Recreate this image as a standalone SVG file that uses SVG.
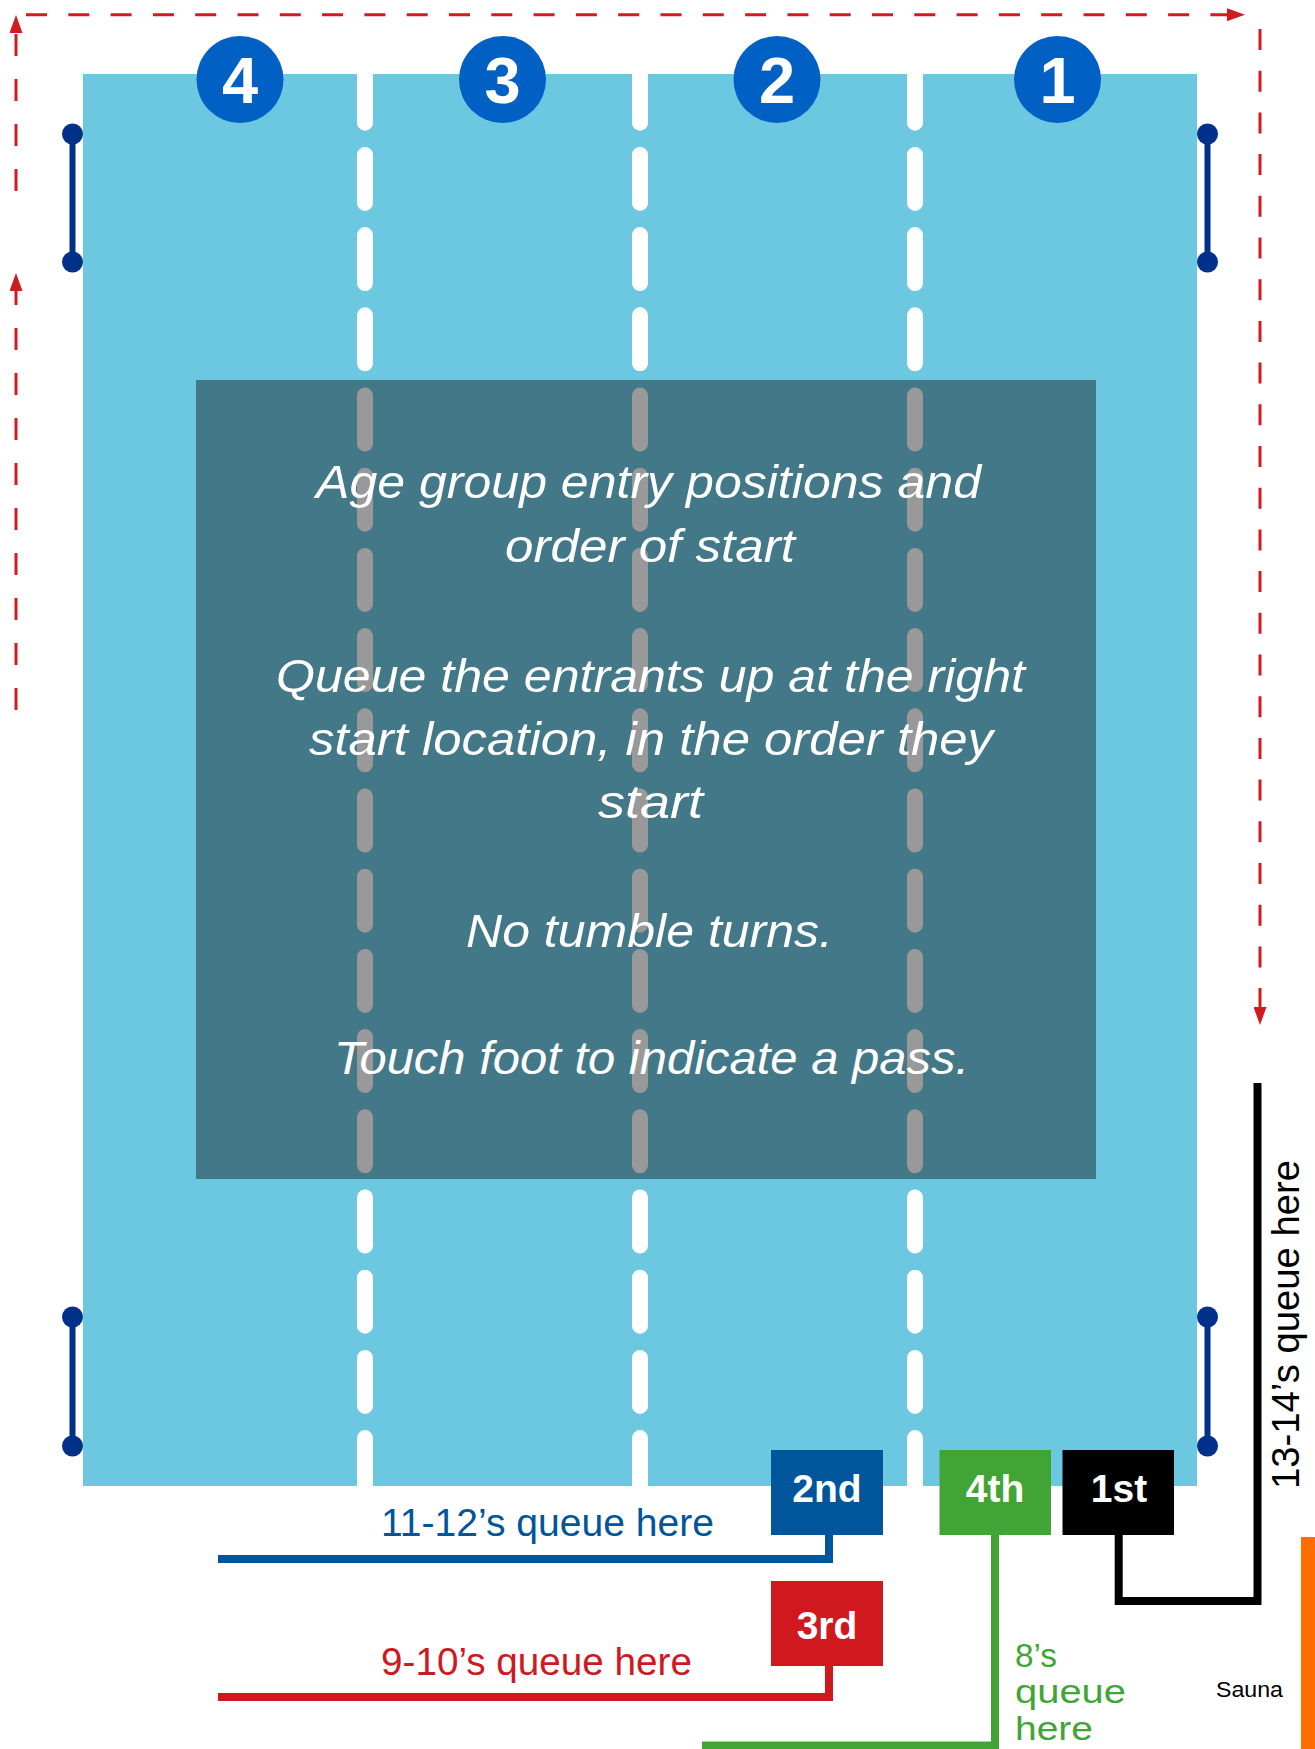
<svg xmlns="http://www.w3.org/2000/svg" width="1315" height="1749" viewBox="0 0 1315 1749">
<defs>
<style>
.pool{fill:#6cc8e1}
.overlay{fill:#427887}
.lane{stroke:#ffffff;stroke-width:16;stroke-linecap:round;stroke-dasharray:48 32.2;fill:none}
.lanegrey{stroke:#999999;stroke-width:16;stroke-linecap:round;stroke-dasharray:48 32.2;fill:none}
.rope{stroke:#00308a;stroke-width:6;fill:none}
.ropedot{fill:#00308a}
.circ{fill:#0160c4}
.circtxt{font-family:"Liberation Sans",Arial,sans-serif;font-weight:bold;font-size:65px;fill:#ffffff;text-anchor:middle}
.note{font-family:"Liberation Sans",Arial,sans-serif;font-style:italic;font-size:47px;fill:#ffffff;text-anchor:middle}
.boxtxt{font-family:"Liberation Sans",Arial,sans-serif;font-weight:bold;font-size:39px;fill:#ffffff;text-anchor:middle}
.q{font-family:"Liberation Sans",Arial,sans-serif;font-size:38px}
.q8{font-family:"Liberation Sans",Arial,sans-serif;font-size:33px;fill:#41a535}
.red{stroke:#d21a21;stroke-width:3;fill:none}
.conn{fill:none;stroke-width:8;stroke-linejoin:miter}
</style>
<marker id="arr" markerUnits="userSpaceOnUse" markerWidth="18" markerHeight="13" refX="0" refY="6.5" orient="auto" viewBox="0 0 18 13">
<path d="M0,0 L18,6.5 L0,13 Z" fill="#d21a21"/>
</marker>
<clipPath id="poolClip"><rect x="83" y="74" width="1114" height="1412"/></clipPath>
<clipPath id="ovClip"><rect x="196" y="380" width="900" height="799"/></clipPath>
</defs>
<rect width="1315" height="1749" fill="#ffffff"/>

<g id="pool">
<rect class="pool" x="83" y="74" width="1114" height="1412"/>
<g clip-path="url(#poolClip)">
<line class="lane" x1="365" y1="74.7" x2="365" y2="1500"/>
<line class="lane" x1="640" y1="74.7" x2="640" y2="1500"/>
<line class="lane" x1="915" y1="74.7" x2="915" y2="1500"/>
</g>
</g>

<g id="ropes">
<line class="rope" x1="72.5" y1="134" x2="72.5" y2="262"/>
<circle class="ropedot" cx="72.5" cy="134" r="10.5"/>
<circle class="ropedot" cx="72.5" cy="262" r="10.5"/>
<line class="rope" x1="1207.5" y1="134" x2="1207.5" y2="262"/>
<circle class="ropedot" cx="1207.5" cy="134" r="10.5"/>
<circle class="ropedot" cx="1207.5" cy="262" r="10.5"/>
<line class="rope" x1="72.5" y1="1317" x2="72.5" y2="1446"/>
<circle class="ropedot" cx="72.5" cy="1317" r="10.5"/>
<circle class="ropedot" cx="72.5" cy="1446" r="10.5"/>
<line class="rope" x1="1207.5" y1="1317" x2="1207.5" y2="1446"/>
<circle class="ropedot" cx="1207.5" cy="1317" r="10.5"/>
<circle class="ropedot" cx="1207.5" cy="1446" r="10.5"/>
</g>

<g id="instructions">
<rect class="overlay" x="196" y="380" width="900" height="799"/>
<g clip-path="url(#ovClip)">
<line class="lanegrey" x1="365" y1="74.7" x2="365" y2="1500"/>
<line class="lanegrey" x1="640" y1="74.7" x2="640" y2="1500"/>
<line class="lanegrey" x1="915" y1="74.7" x2="915" y2="1500"/>
</g>
<text class="note" x="648.5" y="498" textLength="665" lengthAdjust="spacingAndGlyphs">Age group entry positions and</text>
<text class="note" x="650" y="562" textLength="290" lengthAdjust="spacingAndGlyphs">order of start</text>
<text class="note" x="650.5" y="692" textLength="749" lengthAdjust="spacingAndGlyphs">Queue the entrants up at the right</text>
<text class="note" x="651" y="755" textLength="684" lengthAdjust="spacingAndGlyphs">start location, in the order they</text>
<text class="note" x="650.5" y="818" textLength="105" lengthAdjust="spacingAndGlyphs">start</text>
<text class="note" x="649.5" y="947" textLength="367" lengthAdjust="spacingAndGlyphs">No tumble turns.</text>
<text class="note" x="651.5" y="1074" textLength="635" lengthAdjust="spacingAndGlyphs">Touch foot to indicate a pass.</text>
</g>

<g id="lane-4"><circle class="circ" cx="240" cy="79.5" r="43.5"/><text class="circtxt" x="240" y="103">4</text></g>
<g id="lane-3"><circle class="circ" cx="502.5" cy="79.5" r="43.5"/><text class="circtxt" x="502.5" y="103">3</text></g>
<g id="lane-2"><circle class="circ" cx="777" cy="79.5" r="43.5"/><text class="circtxt" x="777" y="103">2</text></g>
<g id="lane-1"><circle class="circ" cx="1057.5" cy="79.5" r="43.5"/><text class="circtxt" x="1057.5" y="103">1</text></g>

<g id="connectors">
<path class="red" d="M16,191 V33" stroke-dasharray="22 23" marker-end="url(#arr)"/>
<path class="red" d="M16,710 V291" stroke-dasharray="22 23" marker-end="url(#arr)"/>
<path class="red" d="M26,14.7 H1227" stroke-dasharray="21 21.3" marker-end="url(#arr)"/>
<path class="red" d="M1260,29 V1007" stroke-dasharray="21 20.7" marker-end="url(#arr)"/>
<path class="conn" stroke="#00559b" d="M829,1535 V1559 H218"/>
<path class="conn" stroke="#d0181f" d="M829,1666 V1697 H218"/>
<path class="conn" stroke="#41a535" stroke-width="7" d="M995,1535 V1745.5 H702"/>
<path class="conn" stroke="#000000" d="M1118.7,1535 V1601 H1257.5 V1083"/>
</g>

<g id="start-2nd"><rect x="771" y="1450" width="112" height="85" fill="#00559b"/><text class="boxtxt" x="827" y="1502">2nd</text></g>
<g id="start-4th"><rect x="939.5" y="1450" width="111.5" height="85" fill="#41a535"/><text class="boxtxt" x="995" y="1502">4th</text></g>
<g id="start-1st"><rect x="1062.5" y="1450" width="111.5" height="85" fill="#000000"/><text class="boxtxt" x="1119" y="1502">1st</text></g>
<g id="start-3rd"><rect x="771" y="1581" width="112" height="85" fill="#d0181f"/><text class="boxtxt" x="827" y="1639">3rd</text></g>

<g id="queue-11-12"><text class="q" x="381" y="1536" fill="#00559b" textLength="333" lengthAdjust="spacingAndGlyphs">11-12’s queue here</text></g>
<g id="queue-9-10"><text class="q" x="381" y="1675" fill="#d0181f" textLength="311" lengthAdjust="spacingAndGlyphs">9-10’s queue here</text></g>
<g id="queue-8">
<text class="q8" x="1015" y="1667" textLength="42" lengthAdjust="spacingAndGlyphs">8’s</text>
<text class="q8" x="1015" y="1703" textLength="111" lengthAdjust="spacingAndGlyphs">queue</text>
<text class="q8" x="1015" y="1740" textLength="78" lengthAdjust="spacingAndGlyphs">here</text>
</g>
<g id="queue-13-14"><text class="q" transform="translate(1299,1489) rotate(-90)" x="0" y="0" fill="#000000" font-size="39" textLength="329" lengthAdjust="spacingAndGlyphs">13-14’s queue here</text></g>

<g id="sauna">
<rect x="1301" y="1537" width="14" height="212" fill="#ff6d00"/>
<text x="1216" y="1697" font-family="Liberation Sans, Arial, sans-serif" font-size="22" fill="#000000" textLength="67" lengthAdjust="spacingAndGlyphs">Sauna</text>
</g>
</svg>
